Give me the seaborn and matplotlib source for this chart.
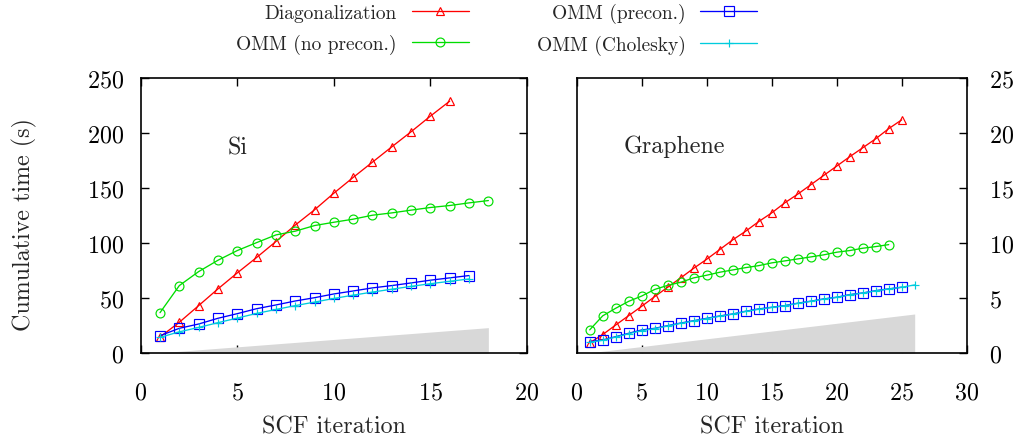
import matplotlib
matplotlib.use("Agg")
import matplotlib.pyplot as plt
import seaborn as sns
import numpy as np

# ---------------- data ----------------
labels = ["Diagonalization", "OMM (no precon.)", "OMM (precon.)", "OMM (Cholesky)"]
colors = ["#ff0000", "#00dd00", "#0000ff", "#00ccdd"]
markers = ["^", "o", "s", "+"]

si_diag = [14.8, 28.2, 43.3, 58.5, 73.0, 87.0, 101.5, 116.4, 130.3, 145.4,
           159.7, 173.6, 187.5, 201.2, 215.4, 229.0]
si_noprecon = [36.9, 61.5, 74.2, 84.5, 93.3, 100.5, 107.5, 110.9, 116.0, 119.0,
               121.8, 125.4, 127.5, 130.0, 132.4, 134.2, 136.6, 138.7]
si_precon = [16.0, 22.7, 26.6, 31.8, 36.0, 40.5, 43.9, 47.5, 50.5, 53.9,
             56.6, 59.4, 61.5, 63.9, 66.4, 68.5, 70.6]
si_chol = [14.5, 19.5, 23.5, 27.8, 32.0, 36.2, 39.8, 43.3, 46.5, 49.8,
           52.8, 55.6, 58.2, 60.8, 63.2, 65.4, 67.5]
si_band_x = [1, 18]
si_band_top = [0.5, 23.3]

gr_diag = [0.95, 1.7, 2.57, 3.42, 4.27, 5.15, 6.0, 6.85, 7.72, 8.54,
           9.42, 10.3, 11.09, 11.96, 12.75, 13.66, 14.45, 15.3, 16.15, 17.0,
           17.85, 18.66, 19.48, 20.4, 21.2]
gr_noprecon = [2.13, 3.4, 4.09, 4.72, 5.2, 5.8, 6.17, 6.45, 6.85, 7.09,
               7.36, 7.57, 7.78, 7.96, 8.21, 8.39, 8.57, 8.75, 8.94, 9.18,
               9.33, 9.54, 9.69, 9.87]
gr_precon = [1.06, 1.21, 1.51, 1.82, 2.12, 2.27, 2.51, 2.75, 2.96, 3.18,
             3.39, 3.57, 3.82, 4.03, 4.18, 4.33, 4.55, 4.73, 4.94, 5.09,
             5.33, 5.48, 5.69, 5.85, 6.0]
gr_chol = [1.0, 1.18, 1.48, 1.78, 2.06, 2.24, 2.48, 2.72, 2.94, 3.15,
           3.37, 3.56, 3.8, 4.0, 4.16, 4.32, 4.53, 4.72, 4.92, 5.08,
           5.31, 5.47, 5.67, 5.84, 6.0, 6.21]
gr_band_x = [1, 26]
gr_band_top = [0.05, 3.57]

si_xticks = [0, 5, 10, 15, 20]
si_yticks = [0, 50, 100, 150, 200, 250]
gr_xticks = [0, 5, 10, 15, 20, 25, 30]
gr_yticks = [0, 5, 10, 15, 20, 25]

# ---------------- style ----------------
sns.set_theme(style="ticks")
plt.rcParams["font.family"] = ["cmr10", "DejaVu Serif"]
plt.rcParams["axes.formatter.use_mathtext"] = True
plt.rcParams["mathtext.fontset"] = "cm"

FS = 17.3
LFS = 14.0

W, H = 1020, 439
fig = plt.figure(figsize=(W / 100, H / 100), dpi=100)
bottom = (H - 354.3) / H
height = 275.3 / H
ax1 = fig.add_axes([140.7 / W, bottom, 386.3 / W, height])
ax2 = fig.add_axes([576.7 / W, bottom, 390.0 / W, height])

msizes = {"^": 6.0, "o": 6.4, "s": 6.7, "+": 6.4}


def draw(ax, series, band_x, band_top):
    ax.set_axisbelow(True)
    ax.fill_between(band_x, [0, 0], band_top, color="#d8d8d8", linewidth=0, zorder=1)
    for ys, lab, c, m in zip(series, labels, colors, markers):
        xs = np.arange(1, len(ys) + 1)
        sns.lineplot(x=xs, y=ys, ax=ax, color=c, linewidth=0.95, marker=m,
                     markersize=msizes[m], markerfacecolor="none",
                     markeredgecolor=c, markeredgewidth=0.85, label=lab,
                     legend=False, zorder=3)
    for s in ax.spines.values():
        s.set_visible(True)
        s.set_linewidth(1.2)
        s.set_color("black")
    ax.set_ylabel("")
    ax.set_xlabel("SCF iteration", fontsize=FS)
    ax.xaxis.set_label_coords(0.5, -0.225)
    ax.xaxis.label.set_va("top")


draw(ax1, [si_diag, si_noprecon, si_precon, si_chol], si_band_x, si_band_top)
draw(ax2, [gr_diag, gr_noprecon, gr_precon, gr_chol], gr_band_x, gr_band_top)

ax1.set_xlim(0, 20)
ax1.set_ylim(0, 250)
ax1.set_xticks(si_xticks)
ax1.set_yticks(si_yticks)
ax1.tick_params(axis="both", direction="in", length=6, width=1, labelsize=FS,
                top=True, bottom=True, left=True, right=True, colors="black")
ax1.tick_params(axis="x", pad=20.5)
ax1.tick_params(axis="y", pad=12)
ax1.set_ylabel("Cumulative time (s)", fontsize=FS)
ax1.yaxis.set_label_coords(-0.268, 0.47)
ax1.text(5.04, 181, "Si", fontsize=FS, ha="center", va="baseline")

ax2.set_xlim(0, 30)
ax2.set_ylim(0, 25)
ax2.set_xticks(gr_xticks)
ax2.set_yticks(gr_yticks)
ax2.tick_params(axis="both", direction="in", length=6, width=1, labelsize=FS,
                colors="black")
ax2.tick_params(axis="x", top=True, bottom=True, pad=20.5)
ax2.tick_params(axis="y", left=False, right=True, labelleft=False,
                labelright=True, pad=16)
ax2.text(7.48, 18.27, "Graphene", fontsize=FS, ha="center", va="baseline")

handles, labs = ax1.get_legend_handles_labels()
fig.legend(handles, labs, loc="center", bbox_to_anchor=(0.487, 0.932),
           ncol=2, frameon=False, markerfirst=False, fontsize=LFS,
           handlelength=2.93, handletextpad=0.76, columnspacing=3.5,
           labelspacing=0.6, borderpad=0, borderaxespad=0)

fig.savefig("out.png", dpi=100)
